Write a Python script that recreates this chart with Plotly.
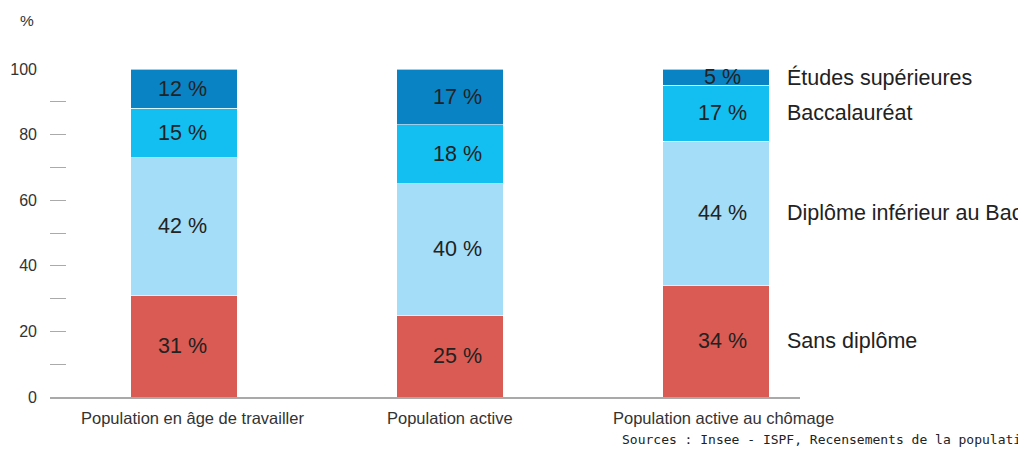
import plotly.graph_objects as go

categories = ["Population en âge de travailler", "Population active", "Population active au chômage"]
series_names = ["Sans diplôme", "Diplôme inférieur au Bac", "Baccalauréat", "Études supérieures"]
sans_diplome = [31, 25, 34]
inferieur_bac = [42, 40, 44]
baccalaureat = [15, 18, 17]
etudes_sup = [12, 17, 5]
colors = ["#D95B53", "#A4DDF7", "#13BEF1", "#0A83C5"]
y_ticks = [0, 20, 40, 60, 80, 100]
source_text = "Sources : Insee - ISPF, Recensements de la population"

FONT = "Liberation Sans, Arial, Helvetica, sans-serif"
label_xshift = [-2, 7, 7]
category_xshift = [8, 0, 8]

series = [sans_diplome, inferieur_bac, baccalaureat, etudes_sup]
xpos = list(range(len(categories)))

fig = go.Figure()
for name, vals, col in zip(series_names, series, colors):
    fig.add_trace(go.Bar(
        x=xpos, y=vals, name=name, width=0.4,
        marker=dict(color=col, line=dict(color="rgba(255,255,255,0.6)", width=1)),
        showlegend=False, hoverinfo="skip",
    ))

annotations = []
base = [0] * len(categories)
for si, vals in enumerate(series):
    for i, v in enumerate(vals):
        annotations.append(dict(
            x=xpos[i], y=base[i] + v / 2, xref="x", yref="y",
            text=f"{v} %", showarrow=False, xshift=label_xshift[i],
            font=dict(size=21.5, color="#222222", family=FONT),
        ))
    base = [b + v for b, v in zip(base, vals)]

# category labels under the bars
for i, cat in enumerate(categories):
    annotations.append(dict(
        x=xpos[i], y=-0.064, xref="x", yref="paper", yanchor="middle",
        text=cat, showarrow=False, xshift=category_xshift[i],
        font=dict(size=16.5, color="#333333", family=FONT),
    ))

# series labels aligned with the last column's segments
base_last = 0
for name, vals in zip(series_names, series):
    v = vals[-1]
    annotations.append(dict(
        x=0.980, y=base_last + v / 2, xref="paper", yref="y",
        text=name, showarrow=False, xanchor="left",
        font=dict(size=21.5, color="#222222", family=FONT),
    ))
    base_last += v

annotations.append(dict(
    xref="paper", yref="paper", x=-0.031, y=1.149, text="%", showarrow=False,
    xanchor="center", yanchor="middle",
    font=dict(size=15.5, color="#333333", family=FONT),
))

annotations.append(dict(
    x=0.760, y=-0.131, xref="paper", yref="paper", yanchor="middle",
    text=source_text, showarrow=False, xanchor="left",
    font=dict(size=13, color="#222222", family="DejaVu Sans Mono, monospace"),
))

fig.update_layout(
    width=1026, height=442,
    margin=dict(l=42, r=234, t=61, b=53),
    barmode="stack",
    plot_bgcolor="white", paper_bgcolor="white",
    annotations=annotations,
    font=dict(family=FONT, color="#333333"),
    xaxis=dict(
        range=[-0.504, 2.316], automargin=False,
        tickmode="array", tickvals=xpos, showticklabels=False,
        showline=True, linecolor="#A9A9A9", linewidth=2,
        showgrid=False, zeroline=False, ticks="",
    ),
    yaxis=dict(
        range=[0, 100], automargin=False,
        tickmode="array", tickvals=y_ticks,
        ticks="inside", ticklen=16, tickcolor="#AAAAAA", tickwidth=1,
        minor=dict(ticks="inside", ticklen=16, tickcolor="#AAAAAA", tickwidth=1, dtick=10, tick0=0, showgrid=False),
        showgrid=False, zeroline=False, showline=False,
        ticklabelstandoff=12,
        tickfont=dict(size=16, color="#333333"),
    ),
)

fig.write_html("out.html")
